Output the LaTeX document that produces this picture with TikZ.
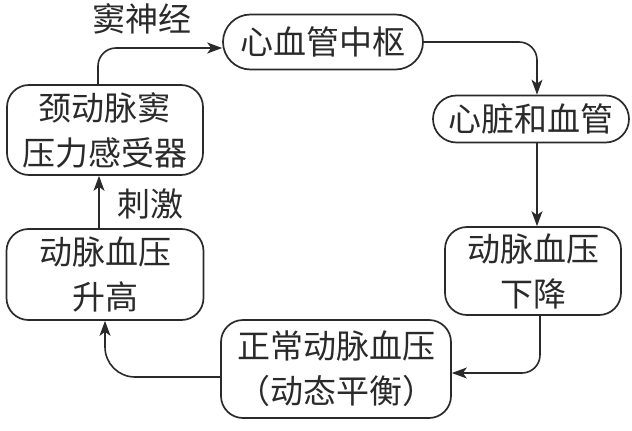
\documentclass[tikz,border=0pt]{standalone}
\usepackage{fontspec}
\newfontfamily\cjk{Noto Sans CJK SC}
\usetikzlibrary{arrows.meta,shapes.misc}
\definecolor{ink}{HTML}{2A2A2A}
\begin{document}
\begin{tikzpicture}[x=1pt,y=-1pt,
  every node/.style={font=\cjk\fontsize{33}{45}\selectfont, text=ink, inner sep=0pt, align=center},
  pill/.style={draw=ink, line width=1.7pt, rounded rectangle, minimum height=#1},
  rbox/.style={draw=ink, line width=1.7pt, rounded corners=22pt, rectangle},
  conn/.style={draw=ink, line width=1.6pt, rounded corners=18pt, -{Stealth[length=15pt,width=11pt,inset=4pt]}},
  lbl/.style={font=\cjk\fontsize{33}{36}\selectfont}]
\useasboundingbox (0,0) rectangle (632,431);
\node[pill=55pt, minimum width=200pt] (A) at (323,42) {心血管中枢};
\node[pill=47pt, minimum width=196pt] (B) at (531,119) {心脏和血管};
\node[rbox, minimum width=176pt, minimum height=88pt] (C) at (533,271) {动脉血压\\下降};
\node[rbox, minimum width=230pt, minimum height=98pt] (D) at (336,369) {正常动脉血压\\（动态平衡）};
\node[rbox, minimum width=197pt, minimum height=91pt] (E) at (105,274.5) {动脉血压\\升高};
\node[rbox, minimum width=196pt, minimum height=90pt] (F) at (105,130) {颈动脉窦\\压力感受器};
\coordinate (c1) at (98,48);
\coordinate (c2) at (537,42);
\coordinate (c3) at (540,373);
\coordinate (c4) at (105,377);
\draw[conn] (F.north -| c1) -- (c1) -- (A.west |- c1);
\draw[conn] (A.east) -- (c2) -- (B.north -| c2);
\draw[conn, rounded corners=0pt] (B.south -| c2) -- (C.north -| c2);
\draw[conn] (C.south -| c3) -- (c3) -- (D.east |- c3);
\draw[conn, rounded corners=30pt] (D.west |- c4) -- (c4) -- (E.south -| c4);
\draw[conn, rounded corners=0pt] (E.north -| 99,0) -- (F.south -| 99,0);
\node[lbl] (L1) at (142,19) {窦神经};
\node[lbl] (L2) at (150,204) {刺激};
\end{tikzpicture}
\end{document}
